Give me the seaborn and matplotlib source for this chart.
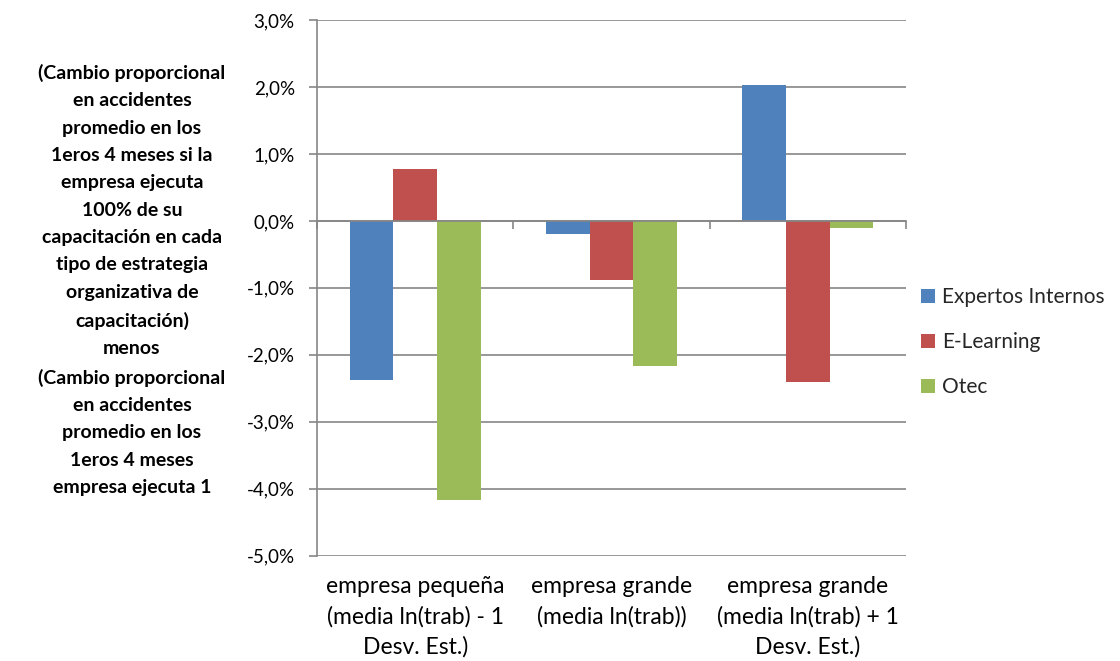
import matplotlib
matplotlib.use("Agg")
import matplotlib.pyplot as plt
import matplotlib.ticker as mticker
from matplotlib.patches import Patch
from matplotlib.transforms import blended_transform_factory
import seaborn as sns
import pandas as pd

# Data: proportional change in average accidents (percent)
categories = [
    "empresa pequeña\n(media ln(trab) - 1\nDesv. Est.)",
    "empresa grande\n(media ln(trab))",
    "empresa grande\n(media ln(trab) + 1\nDesv. Est.)",
]
series = ["Expertos Internos", "E-Learning", "Otec"]
expertos_internos = [-2.38, -0.20, 2.03]
e_learning = [0.77, -0.88, -2.40]
otec = [-4.17, -2.17, -0.11]
y_ticks = [-5, -4, -3, -2, -1, 0, 1, 2, 3]
y_label = ("(Cambio proporcional\nen accidentes\npromedio en los\n1eros 4 meses si la\n"
           "empresa ejecuta\n100% de su\ncapacitación en cada\ntipo de estrategia\n"
           "organizativa de\ncapacitación)\nmenos\n(Cambio proporcional\nen accidentes\n"
           "promedio en los\n1eros 4 meses\nempresa ejecuta 1")

colors = ["#4F81BD", "#C0504D", "#9BBB59"]
grid_color = "#868686"

df = pd.DataFrame({
    "categoria": categories * 3,
    "serie": [s for s in series for _ in categories],
    "valor": expertos_internos + e_learning + otec,
})

sns.set_theme(style="white")
plt.rcParams["font.family"] = ["Lato", "DejaVu Sans"]

fig = plt.figure(figsize=(11.2, 6.61), dpi=100)
ax = fig.add_axes([317 / 1120, 1 - 555.7 / 661, (906 - 317) / 1120, (555.7 - 20) / 661])

sns.barplot(data=df, x="categoria", y="valor", hue="serie", order=categories,
            hue_order=series, palette=colors, width=2 / 3, gap=0,
            saturation=1, edgecolor="none", linewidth=0, legend=False, ax=ax)

ax.set_xlim(-0.5, len(categories) - 0.5)
ax.set_ylim(min(y_ticks), max(y_ticks))
ax.set_yticks(y_ticks)
ax.yaxis.set_major_formatter(
    mticker.FuncFormatter(lambda v, _: f"{v:.1f}%".replace(".", ",")))
ax.yaxis.grid(True, color=grid_color, linewidth=1.2)
ax.set_axisbelow(True)
ax.tick_params(axis="y", which="major", direction="out", length=6, width=1.2,
               color=grid_color, labelsize=13.5, labelcolor="black", pad=10, left=True)

for side in ("top", "right"):
    ax.spines[side].set_visible(False)
ax.spines["left"].set_color(grid_color)
ax.spines["left"].set_linewidth(1.2)

# Horizontal axis sits on the zero line with ticks between categories
ax.spines["bottom"].set_position(("data", 0))
ax.spines["bottom"].set_color(grid_color)
ax.spines["bottom"].set_linewidth(1.2)
ax.set_xticks([])
ax.set_xticks([i - 0.5 for i in range(len(categories) + 1)], minor=True)
ax.tick_params(axis="x", which="minor", direction="out", length=6, width=1.2,
               color=grid_color, bottom=True)
ax.set_xlabel("")
ax.set_ylabel("")

# Category labels below the plot area
trans = blended_transform_factory(ax.transData, ax.transAxes)
for i, cat in enumerate(categories):
    ax.text(i, -0.038, cat, transform=trans, ha="center", va="top",
            fontsize=16.5, linespacing=1.5, color="black")

fig.text(132 / 1120, 1 - 280 / 661, y_label, ha="center", va="center",
         fontsize=14, fontweight="bold", linespacing=1.74, color="black")

handles = [Patch(facecolor=c, edgecolor="none") for c in colors]
fig.legend(handles, series, loc="center left", bbox_to_anchor=(913 / 1120, 1 - 342 / 661),
           frameon=False, fontsize=15, handlelength=0.65, handleheight=0.65,
           handletextpad=0.35, labelspacing=1.2, borderaxespad=0)

fig.savefig("out.png", dpi=100, facecolor="white")
